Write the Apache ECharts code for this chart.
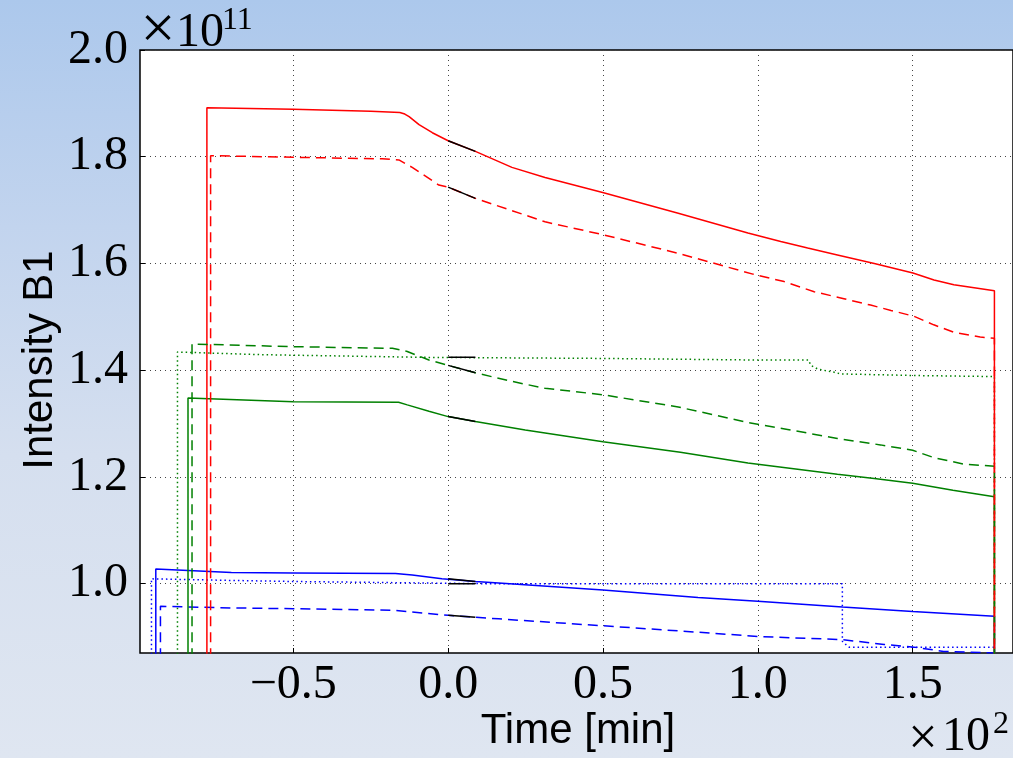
<!DOCTYPE html>
<html>
<head>
<meta charset="utf-8">
<title>Intensity B1</title>
<script src="https://cdn.jsdelivr.net/npm/echarts@6.0.0/dist/echarts.min.js"></script>
<style>
  html, body { margin: 0; padding: 0; }
  #chart {
    width: 1013px;
    height: 758px;
    background: linear-gradient(to bottom, #acc8ec 0%, #c2d4ee 30%, #d5dfef 60%, #dfe6f1 100%);
  }
</style>
</head>
<body>
<div id="chart"></div>
<script>
// time in minutes, intensity in units of 1e11
const xTicks = [-50, 0, 50, 100, 150]
const yTicks = [1.0, 1.2, 1.4, 1.6, 1.8, 2.0]

const redSolid = [[-77.9, 0.8], [-77.9, 1.892], [-50, 1.889], [-25, 1.885], [-15.6, 1.883], [-14, 1.880], [-12.6, 1.875], [-9.4, 1.860], [-5.1, 1.845], [0, 1.830], [8.8, 1.810], [20.6, 1.780], [31.3, 1.761], [49.9, 1.733], [74.3, 1.694], [96.8, 1.657], [107.4, 1.641], [116.1, 1.629], [125.7, 1.616], [137.6, 1.600], [150.1, 1.582], [156.9, 1.569], [163.3, 1.560], [176.4, 1.549], [176.4, 0.8]]
const redDashed = [[-76.7, 0.8], [-76.7, 1.802], [-50, 1.799], [-21.3, 1.796], [-15.9, 1.794], [-11.6, 1.780], [-3, 1.747], [0, 1.743], [8.8, 1.722], [20.6, 1.699], [31.3, 1.678], [49.9, 1.654], [74.3, 1.619], [98.4, 1.580], [108.5, 1.566], [118.2, 1.547], [127.8, 1.534], [136.4, 1.522], [143, 1.512], [150.4, 1.501], [156.8, 1.485], [163.3, 1.471], [171.8, 1.462], [176.4, 1.460], [176.4, 0.8]]

const greenSolid = [[-84, 0.8], [-84, 1.348], [-50, 1.341], [-16, 1.340], [-13.2, 1.335], [-6.2, 1.323], [0, 1.313], [8.8, 1.304], [24.9, 1.288], [50, 1.266], [75, 1.246], [96.8, 1.226], [125.7, 1.205], [137.6, 1.197], [150, 1.188], [163, 1.175], [176.4, 1.163], [176.4, 0.8]]
const greenDashed = [[-82.7, 0.8], [-82.7, 1.449], [-50, 1.444], [-18, 1.441], [-13.2, 1.435], [-6.2, 1.419], [0, 1.409], [8.8, 1.395], [20.6, 1.379], [31.3, 1.366], [49.9, 1.354], [74.3, 1.331], [96.8, 1.302], [109.6, 1.289], [125.7, 1.272], [139.6, 1.260], [150, 1.250], [156.9, 1.236], [166.5, 1.224], [176.4, 1.220], [176.4, 0.8]]
const greenDotted = [[-87.4, 0.8], [-87.4, 1.434], [-60, 1.429], [-7, 1.424], [50, 1.422], [100, 1.419], [116.4, 1.419], [117.1, 1.409], [119.4, 1.402], [124.7, 1.396], [126.8, 1.393], [150.4, 1.390], [176.4, 1.388], [176.4, 0.8]]

const blueSolid = [[-94.4, 0.8], [-94.4, 1.0275], [-70, 1.021], [-50, 1.020], [-17, 1.019], [-11.6, 1.016], [-2, 1.009], [8.8, 1.004], [16.3, 1.001], [50, 0.988], [80.7, 0.974], [100, 0.967], [127.3, 0.956], [150, 0.948], [176.4, 0.939], [176.4, 0.8]]
const blueDashed = [[-92.9, 0.8], [-92.9, 0.9575], [-70, 0.9545], [-50, 0.953], [-17, 0.950], [-8.4, 0.945], [0, 0.9407], [8.8, 0.937], [16.3, 0.934], [50, 0.921], [80.7, 0.909], [100, 0.901], [127.3, 0.895], [140.8, 0.886], [150.4, 0.881], [160, 0.873], [176.4, 0.870], [176.4, 0.8]]
const blueDotted = [[-95.8, 0.8], [-95.8, 1.009], [-70, 1.006], [-50, 1.004], [-20, 1.002], [10, 1.000], [127.3, 1.000], [127.3, 0.892], [128.4, 0.886], [129.5, 0.881], [176.4, 0.881], [176.4, 0.8]]

// short black fits at the start of each curve
const fits = [
  [[0, 1.830], [8.8, 1.810]],
  [[0, 1.743], [8.8, 1.722]],
  [[0, 1.424], [8.8, 1.424]],
  [[0, 1.409], [8.8, 1.395]],
  [[0, 1.313], [8.8, 1.304]],
  [[0, 1.009], [8.8, 1.004]],
  [[0, 1.000], [8.8, 1.000]],
  [[0, 0.9407], [8.8, 0.937]]
]

const DASH = [10, 6]
const DOT = [1.5, 3]
const serif = '"Liberation Serif", "DejaVu Serif", serif'
const sans = '"Liberation Sans", Arial, sans-serif'

function curve(data, color, type) {
  return {
    type: 'line',
    data: data,
    symbol: 'none',
    animation: false,
    lineStyle: { color: color, width: 1.5, type: type }
  }
}

// drawing order matters where the curves share the last vertical drop
const series = [
  curve(blueSolid, '#0000ff', 'solid'),
  curve(blueDashed, '#0000ff', DASH),
  curve(blueDotted, '#0000ff', DOT),
  curve(greenSolid, '#008000', 'solid'),
  curve(greenDotted, '#008000', DOT),
  curve(redSolid, '#ff0000', 'solid'),
  curve(greenDashed, '#008000', DASH),
  curve(redDashed, '#ff0000', DASH)
].concat(fits.map(f => curve(f, '#000', 'solid')))

const chart = echarts.init(document.getElementById('chart'))

chart.setOption({
  backgroundColor: 'transparent',
  grid: {
    left: 140,
    top: 50,
    width: 876,
    height: 603,
    show: true,
    backgroundColor: '#fff',
    borderColor: '#000',
    borderWidth: 1.5
  },
  xAxis: {
    type: 'value',
    min: -99.5,
    max: 182.4,
    axisLine: { show: false, onZero: false },
    axisTick: { inside: true, length: 5, customValues: xTicks, lineStyle: { color: '#000' } },
    axisLabel: {
      customValues: xTicks,
      margin: 8,
      color: '#000',
      fontFamily: serif,
      fontSize: 48,
      formatter: v => (v / 100).toFixed(1).replace('-', '\u2212')
    },
    splitLine: { show: true, lineStyle: { color: '#444', width: 1, type: [1, 4] } }
  },
  yAxis: {
    type: 'value',
    min: 0.87,
    max: 2.0,
    axisLine: { show: false, onZero: false },
    axisTick: { inside: true, length: 5, customValues: yTicks, lineStyle: { color: '#000' } },
    axisLabel: {
      customValues: yTicks,
      margin: 12,
      color: '#000',
      fontFamily: serif,
      fontSize: 48,
      padding: [0, 0, 8, 0],
      formatter: v => v.toFixed(1)
    },
    splitLine: { show: true, lineStyle: { color: '#444', width: 1, type: [1, 4] } }
  },
  graphic: [
    {
      type: 'text', x: 40, y: 360, rotation: Math.PI / 2,
      style: { text: 'Intensity B1', font: '42px ' + sans, fill: '#000', align: 'center', verticalAlign: 'middle' }
    },
    {
      type: 'text', x: 578, y: 731,
      style: { text: 'Time [min]', font: '42px ' + sans, fill: '#000', align: 'center', verticalAlign: 'middle' }
    },
    // offset texts
    {
      type: 'text', x: 158, y: 32,
      style: { text: '\u00d7', font: '62px ' + serif, fill: '#000', align: 'center', verticalAlign: 'middle' }
    },
    {
      type: 'text', x: 176, y: 33,
      style: { text: '10', font: '48px ' + serif, fill: '#000', align: 'left', verticalAlign: 'middle' }
    },
    {
      type: 'text', x: 222, y: 21,
      style: { text: '11', font: '32px ' + serif, fill: '#000', align: 'left', verticalAlign: 'middle' }
    },
    {
      type: 'text', x: 923, y: 740,
      style: { text: '\u00d7', font: '52px ' + serif, fill: '#000', align: 'center', verticalAlign: 'middle' }
    },
    {
      type: 'text', x: 990, y: 737,
      style: { text: '10', font: '48px ' + serif, fill: '#000', align: 'right', verticalAlign: 'middle' }
    },
    {
      type: 'text', x: 993, y: 725,
      style: { text: '2', font: '32px ' + serif, fill: '#000', align: 'left', verticalAlign: 'middle' }
    }
  ],
  series: series
})
</script>
</body>
</html>
